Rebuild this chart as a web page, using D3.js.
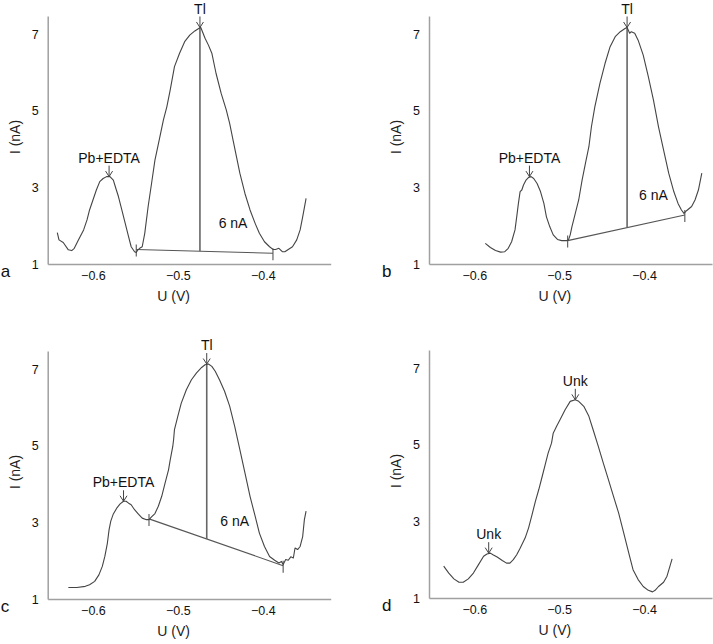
<!DOCTYPE html>
<html>
<head>
<meta charset="utf-8">
<title>Stripping voltammograms</title>
<style>
body { margin: 0; background: #fff; }
svg { display: block; font-family: "Liberation Sans", Arial, sans-serif; }
</style>
</head>
<body>
<div id="chart"></div>
<script src="https://d3js.org/d3.v7.min.js"></script>
<script>
// tick values shared by all four panels
var xTicks = [-0.6, -0.5, -0.4];
var yTicks = [1, 3, 5, 7];
var panelLetters = ["a", "b", "c", "d"];

// curves, [U (V), I (nA)]
var curveA = [[-0.642,1.82],[-0.640,1.63],[-0.635,1.56],[-0.629,1.37],[-0.625,1.35],[-0.622,1.41],[-0.617,1.63],
  [-0.611,1.89],[-0.607,2.15],[-0.604,2.41],[-0.600,2.67],[-0.596,2.93],[-0.592,3.15],[-0.588,3.23],[-0.584,3.28],
  [-0.580,3.28],[-0.576,3.19],[-0.573,2.97],[-0.570,2.76],[-0.566,2.41],[-0.562,2.06],[-0.558,1.71],[-0.555,1.45],
  [-0.551,1.32],[-0.549,1.30],[-0.547,1.37],[-0.545,1.41],[-0.542,1.45],[-0.539,1.80],[-0.535,2.50],[-0.531,3.10],
  [-0.527,3.71],[-0.522,4.23],[-0.517,4.76],[-0.513,5.10],[-0.509,5.54],[-0.504,6.15],[-0.498,6.50],[-0.492,6.80],
  [-0.486,6.97],[-0.480,7.08],[-0.475,7.15],[-0.473,7.17],[-0.471,7.06],[-0.468,6.89],[-0.464,6.71],[-0.460,6.50],
  [-0.455,5.97],[-0.449,5.45],[-0.443,5.02],[-0.439,4.67],[-0.435,4.23],[-0.431,3.80],[-0.427,3.37],[-0.421,2.84],
  [-0.415,2.41],[-0.409,2.06],[-0.404,1.80],[-0.398,1.58],[-0.392,1.45],[-0.388,1.38],[-0.385,1.38],[-0.381,1.41],
  [-0.377,1.32],[-0.374,1.32],[-0.370,1.38],[-0.365,1.45],[-0.360,1.63],[-0.356,1.89],[-0.353,2.23],[-0.349,2.71]];

var curveB = [[-0.587,1.54],[-0.581,1.43],[-0.575,1.35],[-0.569,1.31],[-0.564,1.32],[-0.560,1.41],[-0.556,1.58],
  [-0.552,1.89],[-0.550,2.23],[-0.548,2.58],[-0.546,2.89],[-0.544,2.93],[-0.542,3.06],[-0.539,3.19],[-0.536,3.26],
  [-0.533,3.28],[-0.530,3.23],[-0.526,3.10],[-0.522,2.89],[-0.518,2.58],[-0.515,2.23],[-0.511,1.97],[-0.507,1.76],
  [-0.502,1.64],[-0.497,1.61],[-0.491,1.61],[-0.489,1.63],[-0.487,1.76],[-0.485,1.97],[-0.481,2.32],[-0.477,2.67],
  [-0.473,3.19],[-0.469,3.63],[-0.465,4.06],[-0.462,4.58],[-0.458,5.10],[-0.452,5.71],[-0.446,6.23],[-0.440,6.67],
  [-0.434,6.93],[-0.428,7.06],[-0.422,7.15],[-0.420,7.17],[-0.417,7.02],[-0.415,7.06],[-0.411,7.02],[-0.407,6.84],
  [-0.401,6.45],[-0.395,5.89],[-0.389,5.28],[-0.383,4.58],[-0.377,3.97],[-0.371,3.37],[-0.365,2.89],[-0.360,2.58],
  [-0.356,2.41],[-0.353,2.32],[-0.350,2.39],[-0.344,2.50],[-0.340,2.67],[-0.336,2.93],[-0.332,3.37]];

var curveC = [[-0.629,1.30],[-0.619,1.30],[-0.609,1.33],[-0.604,1.37],[-0.598,1.46],[-0.593,1.63],[-0.589,1.85],
  [-0.586,2.11],[-0.583,2.46],[-0.581,2.81],[-0.579,3.03],[-0.576,3.22],[-0.572,3.37],[-0.568,3.48],[-0.564,3.55],
  [-0.561,3.55],[-0.558,3.50],[-0.555,3.46],[-0.551,3.33],[-0.547,3.23],[-0.542,3.11],[-0.537,3.07],[-0.534,3.07],
  [-0.531,3.14],[-0.527,3.23],[-0.523,3.42],[-0.519,3.68],[-0.515,4.03],[-0.511,4.37],[-0.509,4.63],[-0.506,4.98],
  [-0.505,5.16],[-0.504,5.42],[-0.500,5.77],[-0.496,6.11],[-0.490,6.46],[-0.484,6.72],[-0.478,6.90],[-0.472,7.04],
  [-0.468,7.11],[-0.464,7.13],[-0.460,7.07],[-0.456,6.94],[-0.451,6.72],[-0.445,6.42],[-0.439,6.03],[-0.433,5.50],
  [-0.427,4.90],[-0.421,4.29],[-0.415,3.68],[-0.409,3.16],[-0.404,2.72],[-0.398,2.37],[-0.392,2.11],[-0.386,2.01],
  [-0.381,1.94],[-0.378,1.98],[-0.376,1.90],[-0.373,2.03],[-0.370,2.01],[-0.367,2.10],[-0.364,2.07],[-0.362,2.33],
  [-0.359,2.29],[-0.356,2.37],[-0.355,2.46],[-0.353,2.63],[-0.351,3.07],[-0.349,3.29]];

var curveD = [[-0.636,1.83],[-0.630,1.65],[-0.624,1.50],[-0.618,1.41],[-0.613,1.41],[-0.607,1.50],[-0.601,1.65],
  [-0.595,1.87],[-0.589,2.09],[-0.585,2.15],[-0.581,2.17],[-0.578,2.13],[-0.573,2.07],[-0.567,1.98],[-0.562,1.91],
  [-0.558,1.91],[-0.554,2.00],[-0.550,2.13],[-0.546,2.30],[-0.540,2.57],[-0.536,2.83],[-0.532,3.17],[-0.528,3.52],
  [-0.524,3.83],[-0.520,4.17],[-0.516,4.52],[-0.513,4.78],[-0.509,5.04],[-0.507,5.30],[-0.503,5.48],[-0.499,5.65],
  [-0.493,5.91],[-0.487,6.13],[-0.481,6.17],[-0.477,6.13],[-0.471,6.00],[-0.465,5.74],[-0.460,5.39],[-0.454,4.96],
  [-0.448,4.52],[-0.442,4.09],[-0.436,3.65],[-0.430,3.22],[-0.424,2.70],[-0.418,2.17],[-0.413,1.74],[-0.407,1.48],
  [-0.401,1.30],[-0.395,1.20],[-0.390,1.16],[-0.387,1.20],[-0.383,1.30],[-0.377,1.41],[-0.373,1.57],[-0.369,1.87],
  [-0.367,2.02]];

// peak baselines (start, end) and peak height markers
var baseA = [[-0.549, 1.38], [-0.388, 1.28]];
var baseB = [[-0.490, 1.61], [-0.352, 2.28]];
var baseC = [[-0.534, 3.09], [-0.376, 1.87]];
var peakA = [-0.474, 7.17];
var peakB = [-0.420, 7.17];
var peakC = [-0.466, 7.13];

// peak labels: [text, U at arrow tip, I at arrow tip]
var labelsA = [["Tl", -0.474, 7.17], ["Pb+EDTA", -0.581, 3.28]];
var labelsB = [["Tl", -0.420, 7.17], ["Pb+EDTA", -0.535, 3.28]];
var labelsC = [["Tl", -0.466, 7.13], ["Pb+EDTA", -0.564, 3.55]];
var labelsD = [["Unk", -0.481, 6.17], ["Unk", -0.583, 2.17]];

// "6 nA" annotation centre [U, I]
var heightA = [-0.435, 2.07];
var heightB = [-0.389, 2.80];
var heightC = [-0.433, 3.04];

var W = 713, H = 644;
var plotW = 283, plotH = 248;

var panels = [
  { letter: panelLetters[0], curve: curveA, base: baseA, peak: peakA, labels: labelsA, nA: heightA, x: 47.7, y: 16 },
  { letter: panelLetters[1], curve: curveB, base: baseB, peak: peakB, labels: labelsB, nA: heightB, x: 429, y: 16 },
  { letter: panelLetters[2], curve: curveC, base: baseC, peak: peakC, labels: labelsC, nA: heightC, x: 47.7, y: 351 },
  { letter: panelLetters[3], curve: curveD, base: null, peak: null, labels: labelsD, nA: null, x: 429, y: 350 }
];

var x = d3.scaleLinear().domain([-0.6533, -0.32]).range([0, plotW]);
var y = d3.scaleLinear().domain([1, 7.47]).range([plotH, 0]);

var line = d3.line()
  .x(function(d) { return x(d[0]); })
  .y(function(d) { return y(d[1]); });

var svg = d3.select("#chart").append("svg")
  .attr("width", W)
  .attr("height", H);

panels.forEach(function(p) {
  var g = svg.append("g").attr("transform", "translate(" + p.x + "," + p.y + ")");

  // axes, just the line and labels
  var xAxis = g.append("g")
    .attr("transform", "translate(0," + plotH + ")")
    .call(d3.axisBottom(x).tickValues(xTicks).tickSize(0).tickPadding(7).tickFormat(d3.format(".1f")));
  var yAxis = g.append("g")
    .call(d3.axisLeft(y).tickValues(yTicks).tickSize(0).tickPadding(9).tickFormat(d3.format("d")));
  [xAxis, yAxis].forEach(function(a) {
    a.select(".domain").attr("stroke", "#a0a0a0").attr("stroke-width", 1.5);
    a.selectAll("text").attr("font-size", 12.5).attr("fill", "#111").attr("font-family", null);
  });

  g.append("text")
    .attr("x", x(-0.505))
    .attr("y", plotH + 37)
    .attr("text-anchor", "middle")
    .attr("font-size", 14)
    .attr("fill", "#222")
    .text("U (V)");

  g.append("text")
    .attr("transform", "translate(-28," + (plotH / 2 - 3) + ") rotate(-90)")
    .attr("text-anchor", "middle")
    .attr("font-size", 14)
    .attr("fill", "#222")
    .text("I (nA)");

  g.append("text")
    .attr("x", -47)
    .attr("y", plotH + 13)
    .attr("font-size", 17)
    .attr("fill", "#111")
    .text(p.letter);

  // baseline and peak height
  if (p.base) {
    g.append("path")
      .attr("d", line(p.base))
      .attr("fill", "none")
      .attr("stroke", "#555")
      .attr("stroke-width", 1.1);
    g.selectAll(".endtick").data(p.base).enter().append("line")
      .attr("x1", function(d) { return x(d[0]); })
      .attr("x2", function(d) { return x(d[0]); })
      .attr("y1", function(d) { return y(d[1]) - 5; })
      .attr("y2", function(d) { return y(d[1]) + 7; })
      .attr("stroke", "#555")
      .attr("stroke-width", 1.1);
    var t = (p.peak[0] - p.base[0][0]) / (p.base[1][0] - p.base[0][0]);
    var foot = p.base[0][1] + t * (p.base[1][1] - p.base[0][1]);
    g.append("line")
      .attr("x1", x(p.peak[0])).attr("x2", x(p.peak[0]))
      .attr("y1", y(p.peak[1])).attr("y2", y(foot))
      .attr("stroke", "#666")
      .attr("stroke-width", 1.6);
  }

  g.append("path")
    .attr("d", line(p.curve))
    .attr("fill", "none")
    .attr("stroke", "#444")
    .attr("stroke-width", 1.1)
    .attr("stroke-linejoin", "round");

  // peak labels with arrows
  p.labels.forEach(function(l) {
    var px = x(l[1]), py = y(l[2]);
    g.append("path")
      .attr("d", "M" + px + "," + (py - 11) + "V" + py + "M" + (px - 3.5) + "," + (py - 5.5) + "L" + px + "," + py + "L" + (px + 3.5) + "," + (py - 5.5))
      .attr("fill", "none")
      .attr("stroke", "#444")
      .attr("stroke-width", 1);
    g.append("text")
      .attr("x", px)
      .attr("y", py - 14)
      .attr("text-anchor", "middle")
      .attr("font-size", 14)
      .attr("fill", "#111")
      .text(l[0]);
  });

  if (p.nA) {
    g.append("text")
      .attr("x", x(p.nA[0]))
      .attr("y", y(p.nA[1]))
      .attr("dy", "0.35em")
      .attr("text-anchor", "middle")
      .attr("font-size", 14)
      .attr("fill", "#111")
      .text("6 nA");
  }
});
</script>
</body>
</html>
